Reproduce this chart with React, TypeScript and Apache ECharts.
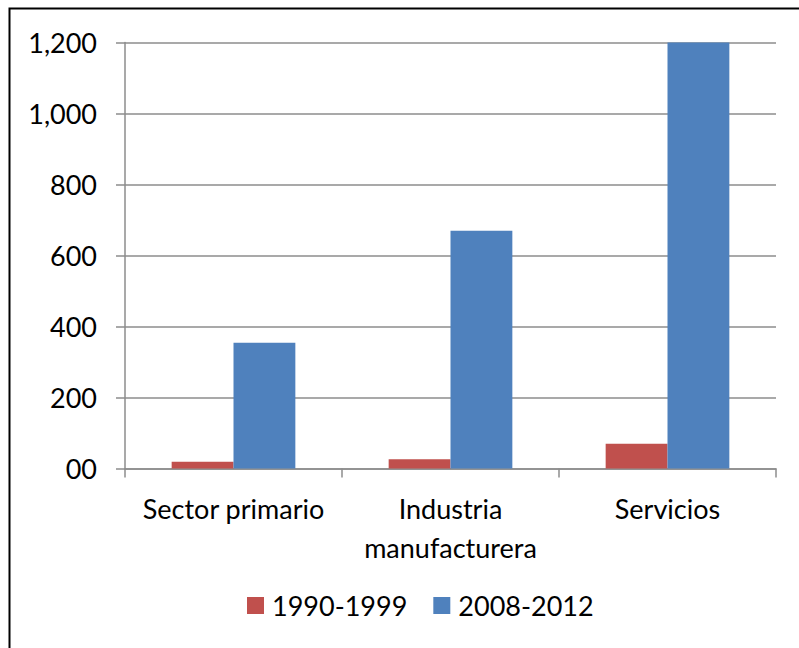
import React, { useEffect, useRef } from "react";
import * as echarts from "echarts";

const categories = ["Sector primario", "Industria\nmanufacturera", "Servicios"];
const series1990 = [19, 26, 70];
const series2008 = [354, 670, 1200];
const seriesNames = ["1990-1999", "2008-2012"];
const yTicks = [0, 200, 400, 600, 800, 1000, 1200];

const FONT = "Lato";
const FS = 27;

export default function App() {
  const ref = useRef<HTMLDivElement>(null);
  useEffect(() => {
    if (!ref.current) return;
    const chart = echarts.init(ref.current, undefined, { renderer: "svg" });
    chart.setOption({
      animation: false,
      backgroundColor: "#ffffff",
      textStyle: { fontFamily: FONT },
      graphic: [
        {
          type: "rect",
          shape: { x: 9.5, y: 8.5, width: 900, height: 800 },
          style: { fill: "none", stroke: "#000000", lineWidth: 2 },
          silent: true,
        },
      ],
      grid: { left: 125, right: 23, top: 42.5, bottom: 179.5, containLabel: false },
      legend: {
        left: 247,
        top: 592,
        padding: 0,
        itemWidth: 17,
        itemHeight: 17,
        itemGap: 26,
        icon: "rect",
        textStyle: { fontFamily: FONT, fontSize: FS, color: "#000000", padding: [0, 0, 0, 3] },
        data: seriesNames,
      },
      xAxis: {
        type: "category",
        data: categories,
        axisLine: { lineStyle: { color: "#8c8c8c", width: 1.5 } },
        axisTick: { show: true, length: 9, alignWithLabel: false, lineStyle: { color: "#8c8c8c", width: 1.5 } },
        axisLabel: {
          color: "#000000",
          fontFamily: FONT,
          fontSize: FS,
          lineHeight: 39,
          margin: 20,
          interval: 0,
        },
      },
      yAxis: {
        type: "value",
        min: 0,
        max: 1200,
        interval: 200,
        axisLine: { show: true, lineStyle: { color: "#8c8c8c", width: 1.5 } },
        axisTick: { show: true, length: 9, lineStyle: { color: "#8c8c8c", width: 1.5 } },
        splitLine: { show: true, lineStyle: { color: "#8c8c8c", width: 1.5 } },
        axisLabel: {
          color: "#000000",
          fontFamily: FONT,
          fontSize: FS,
          margin: 28,
          formatter: (v: number) =>
            yTicks.includes(v) ? (v === 0 ? "00" : v.toLocaleString("en-US")) : "",
        },
      },
      series: [
        {
          name: seriesNames[0],
          type: "bar",
          data: series1990,
          barGap: "0%",
          barCategoryGap: "43%",
          itemStyle: { color: "#C0504D" },
        },
        {
          name: seriesNames[1],
          type: "bar",
          data: series2008,
          barGap: "0%",
          barCategoryGap: "43%",
          itemStyle: { color: "#4F81BD" },
        },
      ],
    });
    return () => chart.dispose();
  }, []);
  return (
    <div
      ref={ref}
      style={{ position: "absolute", left: 0, top: 0, width: 799, height: 648 }}
    />
  );
}
